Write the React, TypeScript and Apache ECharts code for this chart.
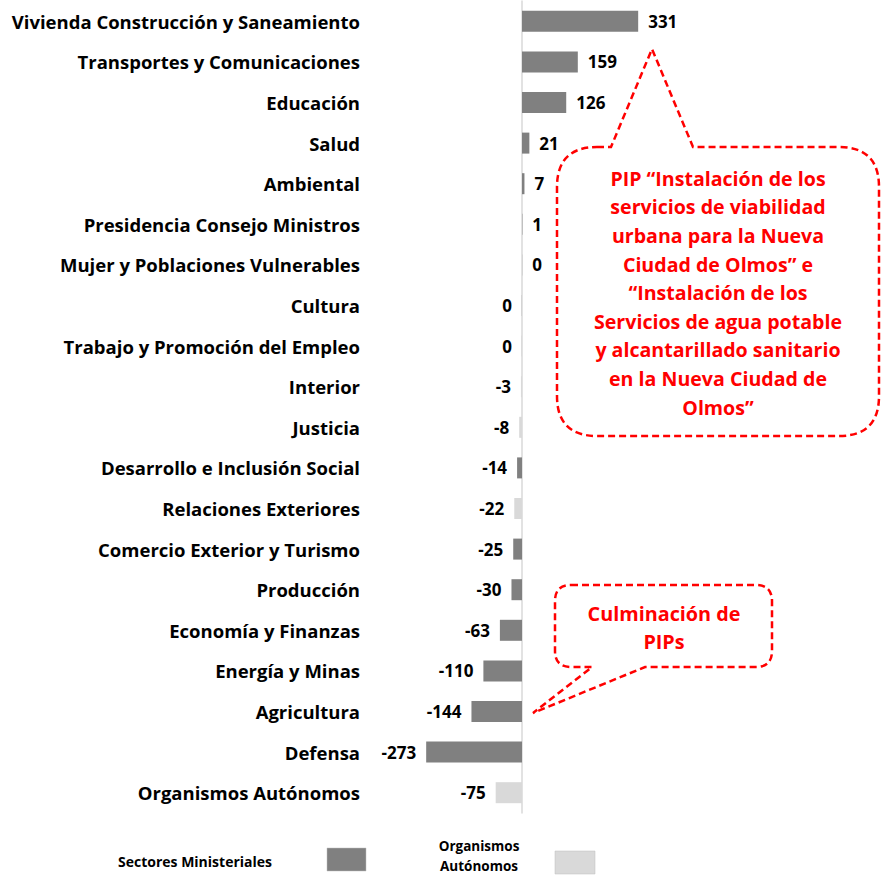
import React, { useEffect, useRef } from "react";
import * as echarts from "echarts";

const categories = [
  "Vivienda Construcción y Saneamiento",
  "Transportes y Comunicaciones",
  "Educación",
  "Salud",
  "Ambiental",
  "Presidencia Consejo Ministros",
  "Mujer y Poblaciones Vulnerables",
  "Cultura",
  "Trabajo y Promoción del Empleo",
  "Interior",
  "Justicia",
  "Desarrollo e Inclusión Social",
  "Relaciones Exteriores",
  "Comercio Exterior y Turismo",
  "Producción",
  "Economía y Finanzas",
  "Energía y Minas",
  "Agricultura",
  "Defensa",
  "Organismos Autónomos",
];
const values = [331, 159, 126, 21, 7, 1, 0.4, -0.4, -0.2, -3, -8, -14, -22, -25, -30, -63, -110, -144, -273, -75];
// "M" = Sectores Ministeriales, "A" = Organismos Autónomos
const groups = ["M", "M", "M", "M", "M", "M", "M", "M", "M", "A", "A", "M", "A", "M", "M", "M", "M", "M", "M", "A"];
const legendNames = ["Sectores Ministeriales", "Organismos\nAutónomos"];

const DARK = "#808080";
const LIGHT = "#d9d9d9";
const RED = "#ff0000";
const FONT = "'Open Sans'";

const bigPath =
  "M 597 147 L 611 147 L 652 49 L 693 147 L 839 147 Q 879 147 879 187 L 879 396 Q 879 436 839 436 L 597 436 Q 557 436 557 396 L 557 187 Q 557 147 597 147 Z";
const smallPath =
  "M 571 585 L 756 585 Q 772 585 772 601 L 772 651 Q 772 667 756 667 L 645 667 L 533 713 L 592 667 L 571 667 Q 555 667 555 651 L 555 601 Q 555 585 571 585 Z";

let registered = false;
function registerShapes() {
  if (registered) return;
  registered = true;
  echarts.graphic.registerShape("calloutBig", echarts.graphic.extendPath(bigPath, {}) as any);
  echarts.graphic.registerShape("calloutSmall", echarts.graphic.extendPath(smallPath, {}) as any);
}

function makeSeriesData(group: string) {
  return values.map((v, i) => {
    if (groups[i] !== group) return "-";
    return {
      value: v,
      label: { position: v >= 0 ? "right" : "left" },
    };
  });
}

export default function App() {
  const ref = useRef<HTMLDivElement>(null);
  useEffect(() => {
    if (!ref.current) return;
    registerShapes();
    const chart = echarts.init(ref.current, null, { renderer: "svg" });
    const labelCfg = {
      show: true,
      distance: 10,
      color: "#000",
      fontFamily: FONT,
      fontWeight: "bold" as const,
      fontSize: 17,
      formatter: (p: any) => String(Math.round(p.value) === 0 ? 0 : Math.round(p.value)),
    };
    chart.setOption({
      animation: false,
      backgroundColor: "#fff",
      grid: { left: 381.6, right: 883 - 873, top: 1, height: 812, containLabel: false },
      xAxis: {
        type: "value",
        min: -400,
        max: 1000,
        show: false,
      },
      yAxis: {
        type: "category",
        data: categories,
        inverse: true,
        axisLine: { show: true, onZero: true, lineStyle: { color: "#d9d9d9", width: 1.5 } },
        axisTick: { show: false },
        axisLabel: {
          margin: 21.6,
          color: "#000",
          fontFamily: FONT,
          fontWeight: "bold",
          fontSize: 18.5,
        },
        splitLine: { show: false },
      },
      series: [
        {
          type: "bar",
          name: legendNames[0],
          stack: "s",
          barWidth: 21,
          itemStyle: { color: DARK },
          label: labelCfg,
          data: makeSeriesData("M"),
        },
        {
          type: "bar",
          name: legendNames[1],
          stack: "s",
          barWidth: 21,
          itemStyle: { color: LIGHT },
          label: labelCfg,
          data: makeSeriesData("A"),
        },
      ],
      graphic: [
        {
          type: "calloutBig",
          x: 0,
          y: 0,
          style: { fill: "#fff", stroke: RED, lineWidth: 2.5, lineDash: [7, 4] },
          z: 100,
        },
        {
          type: "text",
          x: 718,
          y: 164,
          z: 101,
          style: {
            text:
              "PIP “Instalación de los\nservicios de viabilidad\nurbana para la Nueva\nCiudad de Olmos” e\n“Instalación de los\nServicios de agua potable\ny alcantarillado sanitario\nen la Nueva Ciudad de\nOlmos”",
            fill: RED,
            font: `bold 19.6px ${FONT}`,
            textAlign: "center",
            lineHeight: 28.6,
          },
        },
        {
          type: "calloutSmall",
          x: 0,
          y: 0,
          style: { fill: "#fff", stroke: RED, lineWidth: 2.5, lineDash: [7, 4] },
          z: 100,
        },
        {
          type: "text",
          x: 664,
          y: 599,
          z: 101,
          style: {
            text: "Culminación de\nPIPs",
            fill: RED,
            font: `bold 19.8px ${FONT}`,
            textAlign: "center",
            lineHeight: 28,
          },
        },
        {
          type: "text",
          x: 272,
          y: 861,
          style: {
            text: legendNames[0],
            fill: "#000",
            font: `bold 14px ${FONT}`,
            textAlign: "right",
            textVerticalAlign: "middle",
          },
        },
        {
          type: "rect",
          shape: { x: 327, y: 848, width: 39, height: 23 },
          style: { fill: DARK, stroke: "#bfbfbf", lineWidth: 0.5 },
        },
        {
          type: "text",
          x: 479,
          y: 856,
          style: {
            text: legendNames[1],
            fill: "#000",
            font: `bold 13.5px ${FONT}`,
            textAlign: "center",
            textVerticalAlign: "middle",
            lineHeight: 20,
          },
        },
        {
          type: "rect",
          shape: { x: 555, y: 851, width: 40, height: 23 },
          style: { fill: LIGHT, stroke: "#bfbfbf", lineWidth: 0.5 },
        },
      ],
    });
    return () => chart.dispose();
  }, []);
  return <div ref={ref} style={{ width: 883, height: 879, position: "absolute", left: 0, top: 0 }} />;
}
